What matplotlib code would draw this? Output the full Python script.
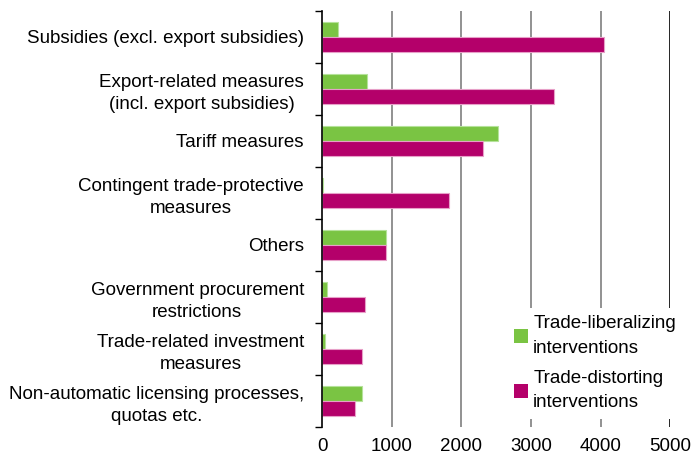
import numpy as np
import matplotlib.pyplot as plt
from matplotlib.patches import Patch

categories = [
    'Subsidies (excl. export subsidies)',
    'Export-related measures\n(incl. export subsidies)',
    'Tariff measures',
    'Contingent trade-protective\nmeasures',
    'Others',
    'Government procurement\nrestrictions',
    'Trade-related investment\nmeasures',
    'Non-automatic licensing processes,\nquotas etc.',
]
liberalizing = [225, 650, 2530, 12, 920, 70, 40, 580]
distorting = [4045, 3330, 2315, 1825, 920, 615, 570, 480]
series_labels = ['Trade-liberalizing\ninterventions', 'Trade-distorting\ninterventions']
xticks = [0, 1000, 2000, 3000, 4000, 5000]

green = '#7AC443'
magenta = '#B4006A'

plt.rcParams['font.family'] = ['Liberation Sans', 'DejaVu Sans']
fs = 13.5

fig = plt.figure(figsize=(6.95, 4.62), dpi=100)
ax = fig.add_axes([322 / 695, 1 - 427 / 462, (670.3 - 322) / 695, (427 - 11) / 462])

n = len(categories)
y = np.arange(n)
h = 0.28
ax.barh(y - h / 2, liberalizing, height=h, color=green, edgecolor='#B5E29A', linewidth=0.8, zorder=3)
ax.barh(y + h / 2, distorting, height=h, color=magenta, edgecolor='#E7A0C8', linewidth=0.8, zorder=3)

ax.set_ylim(n - 0.5, -0.5)
ax.set_xlim(0, 5000)
ax.set_yticks(y)
ax.set_yticklabels(categories, fontsize=fs, multialignment='center', linespacing=1.4)
ax.set_yticks(np.arange(n + 1) - 0.5, minor=True)
ax.tick_params(axis='y', which='major', length=0, pad=13)
ax.tick_params(axis='y', which='minor', length=5, width=1, direction='out', color='black')
ax.set_xticks(xticks)
ax.set_xticklabels([str(t) for t in xticks], fontsize=fs)
ax.tick_params(axis='x', length=0, pad=8)

for t in xticks[1:]:
    ax.axvline(t, color='black' if t == 5000 else '#7F7F7F', linewidth=1.2, zorder=1)

for s in ['top', 'right', 'bottom']:
    ax.spines[s].set_visible(False)
ax.spines['left'].set_linewidth(1.2)
ax.spines['left'].set_zorder(4)

handles = [Patch(facecolor=green), Patch(facecolor=magenta)]
leg = fig.legend(handles, series_labels, loc='upper left',
                 bbox_to_anchor=(506 / 695, 1 - 308 / 462), bbox_transform=fig.transFigure,
                 fontsize=fs, frameon=True, facecolor='white', edgecolor='none', framealpha=1,
                 handlelength=0.75, handleheight=0.75, handletextpad=0.3, labelspacing=0.72,
                 borderaxespad=0, fancybox=False)
for txt in leg.get_texts():
    txt.set_linespacing(1.55)
leg.set_zorder(10)

fig.savefig('out.png', dpi=100)
